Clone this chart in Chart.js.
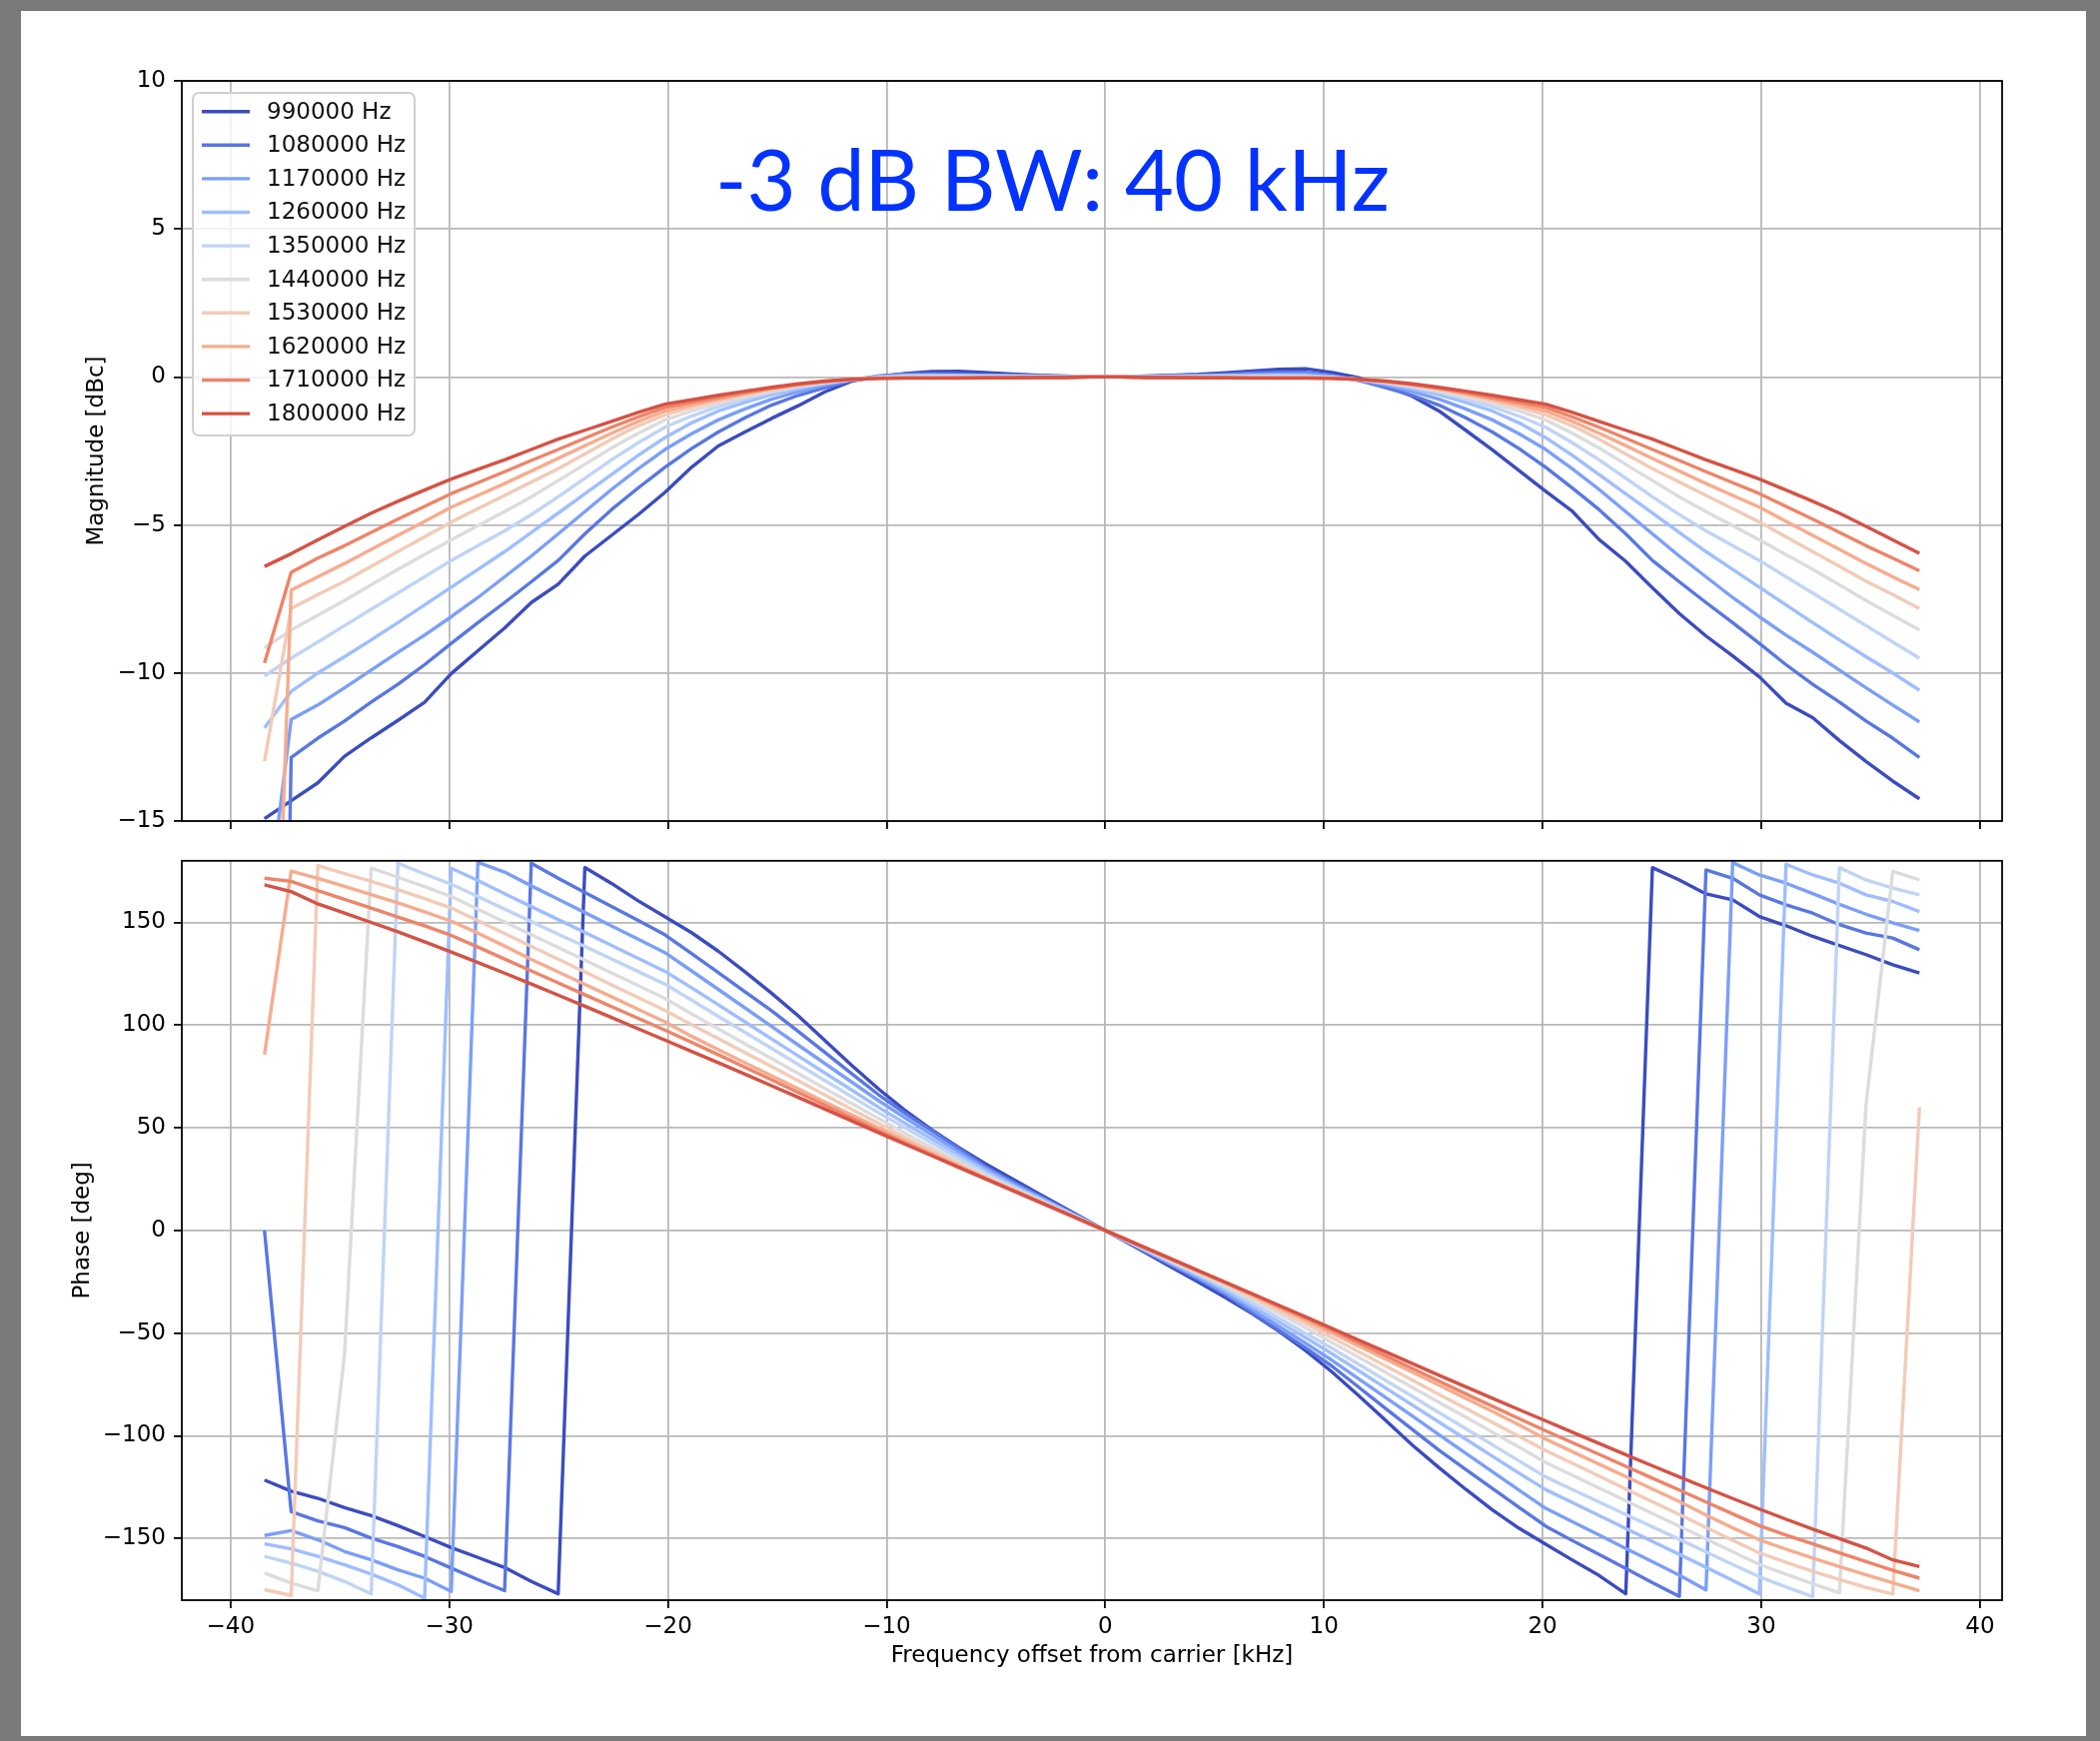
<!DOCTYPE html>
<html>
<head>
<meta charset="utf-8">
<script src="https://cdn.jsdelivr.net/npm/chart.js@4.4.1/dist/chart.umd.min.js"></script>
<style>
  html, body { margin: 0; padding: 0; background: #7a7a7a; }
  #page { position: relative; width: 2102px; height: 1743px; background: #7a7a7a; overflow: hidden; }
  #sheet { position: absolute; left: 21px; top: 11px; width: 2067px; height: 1727px; background: #fff; }
  canvas { position: absolute; left: 0; }
  #magCanvas { top: 0; }
  #phaseCanvas { top: 840px; }
</style>
</head>
<body>
<div id="page">
  <div id="sheet"></div>
  <canvas id="magCanvas" width="2102" height="850"></canvas>
  <canvas id="phaseCanvas" width="2102" height="903"></canvas>
</div>
<script>
/* ── Data ─────────────────────────────────────────────────────── */
const FREQ_KHZ = [-38.45, -37.23, -36.01, -34.79, -33.57, -32.35, -31.13, -29.91, -28.69, -27.47, -26.25, -25.02, -23.8, -22.58, -21.36, -20.14, -18.92, -17.7, -16.48, -15.26, -14.04, -12.82, -11.6, -10.38, -9.16, -7.93, -6.71, -5.49, -4.27, -3.05, -1.83, -0.61,
  0.61, 1.83, 3.05, 4.27, 5.49, 6.71, 7.93, 9.16, 10.38, 11.6, 12.82, 14.04, 15.26, 16.48, 17.7, 18.92, 20.14, 21.36, 22.58, 23.8, 25.02, 26.25, 27.47, 28.69, 29.91, 31.13, 32.35, 33.57, 34.79, 36.01, 37.23];

const CARRIER_LABELS = ["990000 Hz", "1080000 Hz", "1170000 Hz", "1260000 Hz", "1350000 Hz",
  "1440000 Hz", "1530000 Hz", "1620000 Hz", "1710000 Hz", "1800000 Hz"];
const LINE_COLORS = ["#3b4cc0", "#5977e3", "#7b9ff9", "#9ebeff", "#c0d4f5",
  "#dddcdc", "#f2cbb7", "#f7ac8e", "#ee8468", "#d65244"];

const X_TICKS = [-40, -30, -20, -10, 0, 10, 20, 30, 40];
const MAG_TICKS = [-15, -10, -5, 0, 5, 10];
const PHASE_TICKS = [-150, -100, -50, 0, 50, 100, 150];
const BW_TEXT = "-3 dB BW: 40 kHz";

// magnitude [dBc]
const mag990 = [-14.92, -14.31, -13.71, -12.81, -12.19, -11.60, -10.99, -10.02, -9.25, -8.48, -7.62, -7.00, -6.05, -5.35, -4.65, -3.90, -3.05, -2.33, -1.86, -1.40, -0.97, -0.50, -0.14, 0.01, 0.12, 0.18, 0.19, 0.15, 0.10, 0.06, 0.03, 0.00,
  0.00, 0.03, 0.06, 0.09, 0.14, 0.20, 0.26, 0.28, 0.15, -0.03, -0.30, -0.65, -1.15, -1.80, -2.46, -3.16, -3.86, -4.54, -5.49, -6.23, -7.12, -7.99, -8.75, -9.42, -10.13, -11.02, -11.51, -12.28, -12.99, -13.65, -14.25];
const mag1080 = [-60, -12.85, -12.20, -11.62, -10.98, -10.38, -9.72, -9.00, -8.30, -7.62, -6.92, -6.20, -5.30, -4.48, -3.75, -3.05, -2.42, -1.86, -1.38, -0.95, -0.62, -0.36, -0.12, 0.03, 0.10, 0.11, 0.10, 0.07, 0.05, 0.03, 0.02, 0.00,
  0.00, 0.02, 0.04, 0.06, 0.09, 0.13, 0.16, 0.16, 0.05, -0.12, -0.36, -0.62, -0.95, -1.38, -1.86, -2.42, -3.05, -3.75, -4.48, -5.30, -6.20, -6.92, -7.62, -8.30, -9.00, -9.72, -10.38, -10.98, -11.62, -12.20, -12.85];
const mag1170 = [-18.8, -11.57, -11.08, -10.50, -9.90, -9.30, -8.72, -8.10, -7.45, -6.75, -6.05, -5.30, -4.55, -3.80, -3.10, -2.45, -1.92, -1.45, -1.08, -0.75, -0.50, -0.28, -0.10, 0.02, 0.07, 0.07, 0.06, 0.05, 0.04, 0.03, 0.01, 0.00,
  0.00, 0.01, 0.03, 0.04, 0.06, 0.08, 0.10, 0.10, 0.02, -0.10, -0.28, -0.50, -0.75, -1.08, -1.45, -1.92, -2.45, -3.10, -3.80, -4.55, -5.30, -6.05, -6.75, -7.45, -8.10, -8.72, -9.30, -9.90, -10.50, -11.08, -11.65];
const mag1260 = [-11.85, -10.62, -10.00, -9.45, -8.88, -8.30, -7.70, -7.10, -6.50, -5.90, -5.25, -4.60, -3.95, -3.30, -2.65, -2.05, -1.55, -1.15, -0.86, -0.60, -0.40, -0.22, -0.08, -0.01, 0.04, 0.05, 0.05, 0.04, 0.03, 0.02, 0.01, 0.00,
  0.00, 0.01, 0.02, 0.03, 0.04, 0.05, 0.06, 0.05, -0.01, -0.08, -0.22, -0.40, -0.60, -0.86, -1.15, -1.55, -2.05, -2.65, -3.30, -3.95, -4.60, -5.25, -5.90, -6.50, -7.10, -7.70, -8.30, -8.88, -9.45, -10.00, -10.58];
const mag1350 = [-10.10, -9.50, -8.95, -8.40, -7.85, -7.30, -6.75, -6.20, -5.70, -5.20, -4.65, -4.05, -3.42, -2.80, -2.22, -1.70, -1.32, -1.00, -0.74, -0.52, -0.34, -0.20, -0.09, -0.03, 0.02, 0.03, 0.02, 0.02, 0.01, 0.01, 0.00, 0.00,
  0.00, 0.00, 0.01, 0.01, 0.02, 0.02, 0.03, 0.02, -0.03, -0.09, -0.20, -0.34, -0.52, -0.74, -1.00, -1.32, -1.70, -2.22, -2.80, -3.42, -4.05, -4.65, -5.20, -5.70, -6.20, -6.75, -7.30, -7.85, -8.40, -8.95, -9.50];
const mag1440 = [-9.15, -8.55, -8.05, -7.55, -7.02, -6.50, -6.00, -5.50, -5.02, -4.55, -4.05, -3.50, -2.95, -2.40, -1.90, -1.45, -1.15, -0.90, -0.67, -0.47, -0.30, -0.18, -0.09, -0.03, -0.01, 0.00, 0.00, 0.00, 0.00, 0.00, 0.00, 0.00,
  0.00, 0.00, 0.00, 0.00, 0.00, 0.00, 0.00, -0.01, -0.03, -0.09, -0.18, -0.30, -0.47, -0.67, -0.90, -1.15, -1.45, -1.90, -2.40, -2.95, -3.50, -4.05, -4.55, -5.02, -5.50, -6.00, -6.50, -7.02, -7.55, -8.05, -8.55];
const mag1530 = [-12.98, -7.82, -7.35, -6.90, -6.40, -5.90, -5.40, -4.90, -4.45, -4.00, -3.55, -3.10, -2.60, -2.10, -1.65, -1.28, -1.02, -0.80, -0.60, -0.43, -0.28, -0.17, -0.08, -0.03, -0.02, -0.02, -0.01, -0.01, -0.01, -0.01, -0.01, 0.00,
  0.00, -0.01, -0.01, -0.01, -0.01, -0.01, -0.02, -0.02, -0.03, -0.08, -0.17, -0.28, -0.43, -0.60, -0.80, -1.02, -1.28, -1.65, -2.10, -2.60, -3.10, -3.55, -4.00, -4.45, -4.90, -5.40, -5.90, -6.40, -6.90, -7.35, -7.82];
const mag1620 = [-32.4, -7.20, -6.75, -6.30, -5.82, -5.35, -4.88, -4.40, -4.00, -3.60, -3.18, -2.75, -2.32, -1.90, -1.50, -1.15, -0.94, -0.75, -0.56, -0.40, -0.27, -0.16, -0.08, -0.04, -0.03, -0.03, -0.02, -0.02, -0.02, -0.01, -0.01, 0.00,
  0.00, -0.01, -0.01, -0.02, -0.02, -0.02, -0.03, -0.03, -0.04, -0.08, -0.16, -0.27, -0.40, -0.56, -0.75, -0.94, -1.15, -1.50, -1.90, -2.32, -2.75, -3.18, -3.60, -4.00, -4.40, -4.88, -5.35, -5.82, -6.30, -6.75, -7.18];
const mag1710 = [-9.66, -6.60, -6.12, -5.70, -5.25, -4.80, -4.37, -3.94, -3.57, -3.20, -2.82, -2.45, -2.07, -1.70, -1.35, -1.03, -0.86, -0.70, -0.53, -0.38, -0.25, -0.15, -0.08, -0.04, -0.03, -0.03, -0.03, -0.03, -0.02, -0.02, -0.01, 0.00,
  0.00, -0.01, -0.02, -0.02, -0.03, -0.03, -0.03, -0.03, -0.04, -0.08, -0.15, -0.25, -0.38, -0.53, -0.70, -0.86, -1.03, -1.35, -1.70, -2.07, -2.45, -2.82, -3.20, -3.57, -3.94, -4.37, -4.80, -5.25, -5.70, -6.12, -6.55];
const mag1800 = [-6.40, -5.97, -5.50, -5.05, -4.60, -4.20, -3.82, -3.45, -3.12, -2.80, -2.45, -2.10, -1.80, -1.50, -1.20, -0.92, -0.77, -0.62, -0.48, -0.35, -0.23, -0.14, -0.08, -0.05, -0.04, -0.04, -0.04, -0.03, -0.03, -0.02, -0.02, 0.00,
  0.00, -0.02, -0.02, -0.03, -0.03, -0.04, -0.04, -0.04, -0.05, -0.08, -0.14, -0.23, -0.35, -0.48, -0.62, -0.77, -0.92, -1.20, -1.50, -1.80, -2.10, -2.45, -2.80, -3.12, -3.45, -3.82, -4.20, -4.60, -5.05, -5.50, -5.96];

// phase [deg]
const ph990 = [-121.5, -126.9, -130.4, -135.0, -138.8, -143.7, -149.0, -154.4, -159.2, -164.1, -170.9, -176.9, 176.7, 169.0, 160.5, 152.8, 145.0, 136.0, 126.0, 115.5, 104.5, 92.5, 80.5, 69.0, 58.5, 49.0, 40.5, 32.6, 25.2, 18.0, 10.8, 3.6,
  -3.6, -10.8, -18.0, -25.2, -32.6, -40.5, -49.0, -58.5, -69.0, -80.5, -92.5, -104.5, -115.5, -126.0, -136.0, -145.0, -152.8, -160.5, -168.0, -176.9, 176.7, 170.7, 163.9, 161.0, 152.9, 148.4, 143.2, 138.7, 134.3, 129.4, 125.4];
const ph1080 = [0.0, -136.9, -141.4, -144.7, -149.8, -153.9, -158.7, -164.4, -170.0, -175.4, 178.8, 171.5, 164.6, 157.8, 151.0, 144.0, 134.8, 125.6, 116.3, 107.0, 96.9, 86.7, 76.4, 66.2, 57.1, 48.5, 40.0, 31.2, 23.9, 17.1, 10.2, 3.4,
  -3.4, -10.2, -17.1, -23.9, -31.2, -40.0, -48.5, -57.1, -66.2, -76.4, -86.7, -96.9, -107.0, -116.3, -125.6, -134.8, -144.0, -151.0, -157.8, -164.6, -171.5, -178.2, 175.6, 171.5, 163.4, 158.6, 154.5, 148.9, 144.8, 142.4, 136.7];
const ph1170 = [-148.5, -146.1, -150.6, -156.3, -160.4, -165.2, -169.3, -175.7, 179.2, 174.5, 167.8, 161.3, 154.8, 148.3, 141.8, 135.3, 126.4, 117.4, 108.4, 99.4, 90.3, 81.3, 72.3, 63.3, 54.9, 46.6, 38.4, 30.3, 23.1, 16.5, 9.9, 3.3,
  -3.3, -9.9, -16.5, -23.1, -30.3, -38.4, -46.6, -54.9, -63.3, -72.3, -81.3, -90.3, -99.4, -108.4, -117.4, -126.4, -135.3, -141.8, -148.3, -154.8, -161.3, -167.8, -175.0, 179.1, 173.1, 169.1, 164.0, 158.8, 154.0, 149.8, 146.0];
const ph1260 = [-152.6, -155.0, -158.7, -162.8, -167.3, -172.5, -179.0, 176.4, 170.4, 164.0, 157.7, 151.4, 145.1, 138.8, 132.5, 126.2, 118.2, 109.9, 101.6, 93.3, 85.0, 76.7, 68.4, 60.1, 52.2, 44.5, 36.8, 29.1, 22.2, 15.9, 9.5, 3.2,
  -3.2, -9.5, -15.9, -22.2, -29.1, -36.8, -44.5, -52.2, -60.1, -68.4, -76.7, -85.0, -93.3, -101.6, -109.9, -118.2, -126.2, -132.5, -138.8, -145.1, -151.4, -157.7, -164.0, -170.4, -177.0, 178.3, 173.1, 169.1, 163.4, 160.2, 155.3];
const ph1350 = [-158.7, -162.0, -166.0, -170.9, -177.0, 178.8, 173.6, 168.6, 162.6, 156.5, 150.4, 144.3, 138.3, 132.2, 126.1, 120.0, 112.2, 104.3, 96.5, 88.7, 80.8, 73.0, 65.2, 57.4, 50.0, 42.6, 35.3, 27.9, 21.4, 15.3, 9.2, 3.1,
  -3.1, -9.2, -15.3, -21.4, -27.9, -35.3, -42.6, -50.0, -57.4, -65.2, -73.0, -80.8, -88.7, -96.5, -104.3, -112.2, -120.0, -126.1, -132.2, -138.3, -144.3, -150.4, -156.5, -162.6, -168.6, -173.6, -178.2, 176.7, 170.7, 166.7, 163.4];
const ph1440 = [-166.8, -171.7, -175.4, -60.0, 176.4, 172.0, 167.4, 162.6, 156.4, 150.2, 144.0, 137.8, 131.6, 125.4, 119.2, 113.0, 105.5, 98.2, 90.9, 83.7, 76.4, 69.1, 61.8, 54.6, 47.4, 40.4, 33.6, 26.8, 20.7, 14.8, 8.9, 3.0,
  -3.0, -8.9, -14.8, -20.7, -26.8, -33.6, -40.4, -47.4, -54.6, -61.8, -69.1, -76.4, -83.7, -90.9, -98.2, -105.5, -113.0, -119.2, -125.4, -131.6, -137.8, -144.0, -150.2, -156.4, -162.6, -167.4, -172.0, -176.4, 61.5, 174.8, 170.7];
const ph1530 = [-174.9, -177.7, 177.7, 173.8, 170.0, 166.0, 161.6, 157.0, 150.8, 144.6, 138.3, 132.1, 125.9, 119.6, 113.4, 107.2, 100.2, 93.4, 86.6, 79.8, 72.9, 66.0, 59.1, 52.2, 45.3, 38.8, 32.4, 26.1, 20.3, 14.5, 8.7, 2.9,
  -2.9, -8.7, -14.5, -20.3, -26.1, -32.4, -38.8, -45.3, -52.2, -59.1, -66.0, -72.9, -79.8, -86.6, -93.4, -100.2, -107.2, -113.4, -119.6, -125.9, -132.1, -138.3, -144.6, -150.8, -157.0, -161.6, -166.0, -170.0, -173.8, -177.0, 60.0];
const ph1620 = [85.7, 175.0, 171.5, 167.6, 163.6, 159.5, 155.2, 150.6, 144.8, 138.5, 132.0, 125.9, 119.8, 113.8, 107.7, 101.6, 94.6, 88.1, 81.7, 75.3, 69.0, 62.6, 56.3, 50.0, 43.7, 37.6, 31.5, 25.6, 20.0, 14.3, 8.6, 2.9,
  -2.9, -8.6, -14.3, -20.0, -25.6, -31.5, -37.6, -43.7, -50.0, -56.3, -62.6, -69.0, -75.3, -81.7, -88.1, -94.6, -101.6, -107.7, -113.8, -119.8, -125.9, -132.0, -138.5, -144.8, -150.6, -155.2, -159.5, -163.6, -167.6, -171.5, -175.4];
const ph1710 = [171.5, 170.0, 165.5, 161.2, 157.0, 152.6, 148.3, 143.7, 138.0, 132.2, 126.4, 120.6, 114.8, 109.0, 103.3, 97.6, 91.6, 85.6, 79.5, 73.4, 67.2, 61.0, 54.8, 48.6, 42.6, 36.7, 30.9, 25.3, 19.7, 14.1, 8.5, 2.8,
  -2.8, -8.5, -14.1, -19.7, -25.3, -30.9, -36.7, -42.6, -48.6, -54.8, -61.0, -67.2, -73.4, -79.5, -85.6, -91.6, -97.6, -103.3, -109.0, -114.8, -120.6, -126.4, -132.2, -138.0, -143.7, -148.3, -152.6, -157.0, -161.2, -165.5, -169.3];
const ph1800 = [168.3, 165.0, 159.0, 154.6, 150.0, 145.4, 140.6, 135.6, 130.5, 125.3, 120.0, 114.6, 109.2, 103.7, 98.2, 92.7, 87.2, 81.7, 76.1, 70.5, 64.8, 59.1, 53.4, 47.7, 42.0, 36.4, 30.8, 25.2, 19.6, 14.0, 8.4, 2.8,
  -2.8, -8.4, -14.0, -19.6, -25.2, -30.8, -36.4, -42.0, -47.7, -53.4, -59.1, -64.8, -70.5, -76.1, -81.7, -87.2, -92.7, -98.2, -103.7, -109.2, -114.6, -120.0, -125.3, -130.5, -135.6, -140.6, -145.4, -150.0, -154.6, -160.4, -163.6];

const MAGS = [mag990, mag1080, mag1170, mag1260, mag1350, mag1440, mag1530, mag1620, mag1710, mag1800];
const PHASES = [ph990, ph1080, ph1170, ph1260, ph1350, ph1440, ph1530, ph1620, ph1710, ph1800];

/* ── Style ────────────────────────────────────────────────────── */
const FONT = { family: "DejaVu Sans", size: 23 };
const TEXT_COLOR = "#000";
const GRID_COLOR = "#b8b8b8";
const X_MIN = -42.23, X_MAX = 41.01;

const minusFmt = v => (v < 0 ? "\u2212" + Math.abs(v) : String(v));
const fixedTicks = list => scale => { scale.ticks = list.map(v => ({ value: v })); };

function gridOpts() {
  return { color: GRID_COLOR, lineWidth: 1.8, drawTicks: true, tickLength: 8, tickColor: "#000", tickWidth: 1.8 };
}

function makeDatasets(series) {
  return series.map((vals, i) => ({
    label: CARRIER_LABELS[i],
    data: FREQ_KHZ.map((x, k) => ({ x, y: vals[k] })),
    borderColor: LINE_COLORS[i],
    backgroundColor: LINE_COLORS[i],
    borderWidth: 3.4,
    borderJoinStyle: "round",
    pointRadius: 0,
    tension: 0,
    fill: false,
    order: 9 - i,   // last carrier drawn on top, like matplotlib
  }));
}

// black box round the plot area
const framePlugin = {
  id: "frame",
  afterDatasetsDraw(chart) {
    const { ctx, chartArea: a } = chart;
    ctx.save();
    ctx.strokeStyle = "#000";
    ctx.lineWidth = 1.8;
    ctx.strokeRect(a.left, a.top, a.right - a.left, a.bottom - a.top);
    ctx.restore();
  },
};

// matplotlib style legend, upper left
const legendPlugin = {
  id: "mplLegend",
  afterDraw(chart) {
    const ctx = chart.ctx;
    const x0 = 193, y0 = 93, w = 222, h = 343, r = 6;
    ctx.save();
    ctx.beginPath();
    ctx.moveTo(x0 + r, y0);
    ctx.arcTo(x0 + w, y0, x0 + w, y0 + h, r);
    ctx.arcTo(x0 + w, y0 + h, x0, y0 + h, r);
    ctx.arcTo(x0, y0 + h, x0, y0, r);
    ctx.arcTo(x0, y0, x0 + w, y0, r);
    ctx.closePath();
    ctx.fillStyle = "rgba(255,255,255,0.8)";
    ctx.fill();
    ctx.strokeStyle = "#d0d0d0";
    ctx.lineWidth = 2;
    ctx.stroke();

    ctx.font = `${FONT.size}px "${FONT.family}"`;
    ctx.textBaseline = "middle";
    ctx.textAlign = "left";
    CARRIER_LABELS.forEach((lab, i) => {
      const y = 111.7 + 33.6 * i;
      ctx.strokeStyle = LINE_COLORS[i];
      ctx.lineWidth = 3.4;
      ctx.beginPath();
      ctx.moveTo(202, y);
      ctx.lineTo(250, y);
      ctx.stroke();
      ctx.fillStyle = "#111";
      ctx.fillText(lab, 267, y + 1);
    });
    ctx.restore();
  },
};

// big blue bandwidth note
const bwPlugin = {
  id: "bwNote",
  afterDraw(chart) {
    const ctx = chart.ctx;
    ctx.save();
    ctx.font = '86px "Lato"';
    const w = ctx.measureText(BW_TEXT).width;
    ctx.translate(716, 211);
    ctx.scale(675 / w, 1);
    ctx.fillStyle = "#0433ff";
    ctx.textBaseline = "alphabetic";
    ctx.textAlign = "left";
    ctx.fillText(BW_TEXT, 0, 0);
    ctx.restore();
  },
};

/* ── Magnitude chart ──────────────────────────────────────────── */
new Chart(document.getElementById("magCanvas"), {
  type: "line",
  data: { datasets: makeDatasets(MAGS) },
  options: {
    responsive: false,
    animation: false,
    devicePixelRatio: 1,
    layout: { padding: { top: 81, right: 98, bottom: 0, left: 0 } },
    plugins: { legend: { display: false }, tooltip: { enabled: false } },
    scales: {
      x: {
        type: "linear", min: X_MIN, max: X_MAX,
        afterBuildTicks: fixedTicks(X_TICKS),
        grid: gridOpts(),
        border: { display: false },
        ticks: { display: false },
        afterFit: s => { s.height = 28; },
      },
      y: {
        type: "linear", min: -15, max: 10,
        afterBuildTicks: fixedTicks(MAG_TICKS),
        grid: gridOpts(),
        border: { display: false },
        ticks: { font: FONT, color: TEXT_COLOR, padding: 8, autoSkip: false, callback: minusFmt },
        title: { display: true, text: "Magnitude [dBc]", font: FONT, color: TEXT_COLOR, padding: { top: 83, bottom: 0 } },
        afterFit: s => { s.width = 182; },
      },
    },
  },
  plugins: [framePlugin, bwPlugin, legendPlugin],
});

/* ── Phase chart ──────────────────────────────────────────────── */
new Chart(document.getElementById("phaseCanvas"), {
  type: "line",
  data: { datasets: makeDatasets(PHASES) },
  options: {
    responsive: false,
    animation: false,
    devicePixelRatio: 1,
    layout: { padding: { top: 21, right: 98, bottom: 0, left: 0 } },
    plugins: { legend: { display: false }, tooltip: { enabled: false } },
    scales: {
      x: {
        type: "linear", min: X_MIN, max: X_MAX,
        afterBuildTicks: fixedTicks(X_TICKS),
        grid: gridOpts(),
        border: { display: false },
        ticks: { font: FONT, color: TEXT_COLOR, padding: 5, maxRotation: 0, autoSkip: false, callback: minusFmt },
        title: { display: true, text: "Frequency offset from carrier [kHz]", font: FONT, color: TEXT_COLOR, padding: { top: 0, bottom: 71 } },
        afterFit: s => { s.height = 141; },
      },
      y: {
        type: "linear", min: -180, max: 180,
        afterBuildTicks: fixedTicks(PHASE_TICKS),
        grid: gridOpts(),
        border: { display: false },
        ticks: { font: FONT, color: TEXT_COLOR, padding: 8, autoSkip: false, callback: minusFmt },
        title: { display: true, text: "Phase [deg]", font: FONT, color: TEXT_COLOR, padding: { top: 69, bottom: 0 } },
        afterFit: s => { s.width = 182; },
      },
    },
  },
  plugins: [framePlugin],
});
</script>
</body>
</html>
